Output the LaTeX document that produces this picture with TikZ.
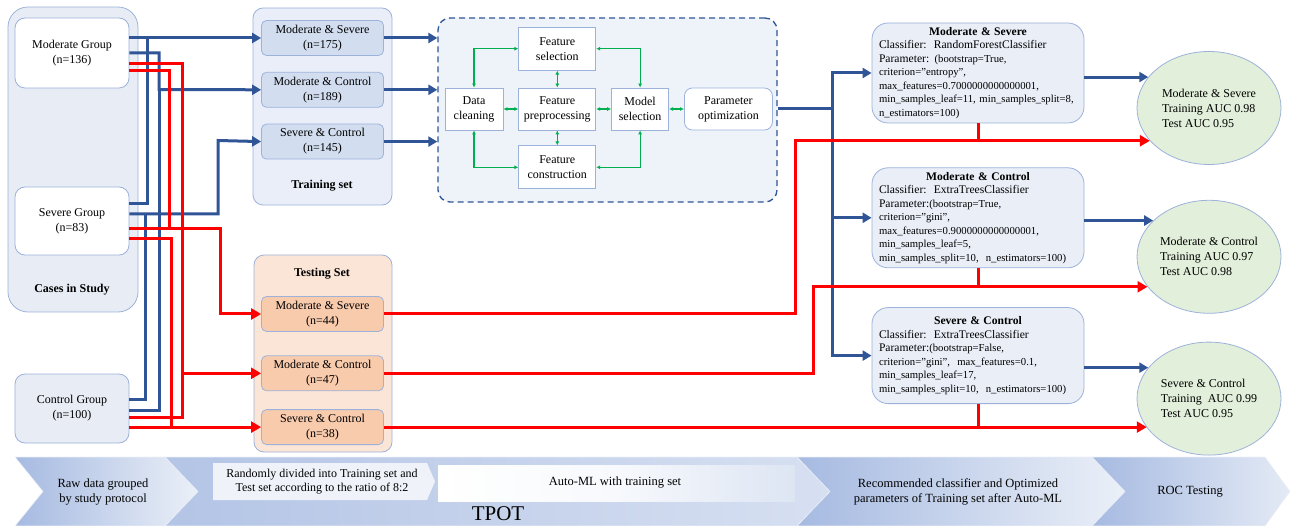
\documentclass[tikz,border=0pt]{standalone}
\usepackage{fontspec}
\setmainfont{Liberation Serif}
\usepackage{tikz}
\usetikzlibrary{positioning}
\usetikzlibrary{arrows.meta}
\usetikzlibrary{shapes.geometric}
\definecolor{darkblue}{HTML}{2F5597}
\definecolor{edgeblue}{HTML}{9DB2DB}
\definecolor{casefill}{HTML}{E8ECF4}
\definecolor{trainfill}{HTML}{E9EEF8}
\definecolor{trainbox}{HTML}{D2DEF0}
\definecolor{testfill}{HTML}{FBE5D6}
\definecolor{testbox}{HTML}{F8CBAD}
\definecolor{amlfill}{HTML}{EEF3FA}
\definecolor{clsfill}{HTML}{E9EEF7}
\definecolor{rocfill}{HTML}{E2EFDA}
\definecolor{linkgreen}{HTML}{00B050}
\definecolor{bandblue}{HTML}{A6BAE1}
\definecolor{bandlight}{HTML}{EBF0F8}
\newcommand{\boxfont}{\fontsize{12}{15}\selectfont}
\newcommand{\parfont}{\fontsize{10.7}{13.5}\selectfont}
\newcommand{\clsfont}{\fontsize{11.6}{13.5}\selectfont}
\newcommand{\bandfont}{\fontsize{12.5}{15}\selectfont}
\tikzset{
  panel/.style={draw=edgeblue,line width=0.8pt,inner sep=0},
  casebox/.style={draw=edgeblue,line width=0.8pt,fill=white,rounded corners=10pt,
    minimum width=114pt,inner sep=0,align=center,font=\boxfont},
  subbox/.style={draw=edgeblue,line width=0.8pt,rounded corners=5pt,minimum width=122pt,
    minimum height=35pt,inner sep=0,align=center,font=\boxfont},
  stepbox/.style={draw=edgeblue,line width=0.8pt,fill=white,minimum height=42pt,
    inner sep=0,align=center,font=\boxfont},
  clsbox/.style={draw=edgeblue,line width=0.8pt,fill=clsfill,rounded corners=16pt,
    text width=198pt,inner xsep=7pt,inner ysep=0,align=left,font=\parfont},
  roc/.style={ellipse,draw=edgeblue,line width=0.8pt,fill=rocfill,minimum width=144pt,
    minimum height=113pt,inner sep=0,align=left,font=\boxfont},
  blueline/.style={draw=darkblue,line width=3pt},
  bluearr/.style={blueline,-{Triangle[length=9pt,width=10pt]}},
  redline/.style={draw=red,line width=3pt},
  redarr/.style={redline,-{Triangle[length=10pt,width=11pt]}},
  greenarr/.style={draw=linkgreen,line width=1.2pt,
    {Latex[length=4pt,width=4pt]}-{Latex[length=4pt,width=4pt]}},
  chevron/.style={draw=bandlight,line width=0.6pt}
}
\begin{document}
\begin{tikzpicture}[x=1pt,y=-1pt]
\useasboundingbox (0,0) rectangle (1295,526);

% bottom band
\path[chevron,left color=bandblue,right color=bandlight]
  (15,457) -- (165,457) -- (198,491.5) -- (165,526) -- (15,526) -- (43,491.5) -- cycle;
\path[chevron,left color=bandblue!85!white,right color=bandblue!45!white]
  (165,457) -- (797,457) -- (830,491.5) -- (797,526) -- (165,526) -- (198,491.5) -- cycle;
\path[chevron,left color=bandblue,right color=bandlight]
  (797,457) -- (1092,457) -- (1125,491.5) -- (1092,526) -- (797,526) -- (830,491.5) -- cycle;
\path[chevron,left color=bandblue,right color=bandlight!90!bandblue]
  (1092,457) -- (1265,457) -- (1290,491.5) -- (1265,526) -- (1092,526) -- (1125,491.5) -- cycle;
\path[fill=bandlight!80!white] (213,463) -- (427,463) -- (435,481.5) -- (427,500) -- (213,500) -- cycle;
\path[left color=white,right color=bandlight!80!bandblue,middle color=white!60!bandlight]
  (438,465) rectangle (795,501);
\node[font=\bandfont,align=center] (rawtxt) at (103,492) {Raw data grouped\\by study protocol};
\node[font=\fontsize{12}{14.3}\selectfont,align=center] (splittxt) at (322,481.5)
  {Randomly divided into Training set and\\Test set according to the ratio of 8:2};
\node[font=\bandfont] (autotxt) at (615,483) {Auto-ML with training set};
\node[font=\fontsize{21}{24}\selectfont] (tpot) at (498,514) {TPOT};
\node[font=\bandfont,align=center] (rectxt) at (958,492)
  {Recommended classifier and Optimized\\parameters of Training set after Auto-ML};
\node[font=\bandfont] (roctxt) at (1190,492) {ROC Testing};

% cases
\node[panel,fill=casefill,rounded corners=20pt,minimum width=130pt,minimum height=305pt]
  (cases) at (73,159.5) {};
\node[font=\boxfont\bfseries] (caselbl) at (72,290) {Cases in Study};
\node[casebox,minimum height=70pt] (mg) at (72,53) {Moderate Group\\(n=136)};
\node[casebox,minimum height=68pt] (sg) at (72,221) {Severe Group\\(n=83)};
\node[casebox,fill=casefill,minimum height=69pt] (cg) at (72,408.5) {Control Group\\(n=100)};

% training set
\node[panel,fill=trainfill,rounded corners=10pt,minimum width=139pt,minimum height=197pt]
  (train) at (322.5,106.5) {};
\node[font=\boxfont\bfseries] (trainlbl) at (322,186) {Training set};
\node[subbox,fill=trainbox] (tr1) at (322.5,38) {Moderate \& Severe\\(n=175)};
\node[subbox,fill=trainbox,below=16pt of tr1] (tr2) {Moderate \& Control\\(n=189)};
\node[subbox,fill=trainbox,below=16pt of tr2] (tr3) {Severe \& Control\\(n=145)};

% testing set
\node[panel,fill=testfill,rounded corners=10pt,minimum width=138pt,minimum height=197pt]
  (test) at (323,353.5) {};
\node[font=\boxfont\bfseries] (testlbl) at (322,274) {Testing Set};
\node[subbox,fill=testbox] (te1) at (322.5,314) {Moderate \& Severe\\(n=44)};
\node[subbox,fill=testbox,below=23.5pt of te1] (te2) {Moderate \& Control\\(n=47)};
\node[subbox,fill=testbox,below=18pt of te2] (te3) {Severe \& Control\\(n=38)};

% auto-ml
\node[draw=darkblue,line width=1.3pt,dash pattern=on 6pt off 4pt,fill=amlfill,
  rounded corners=12pt,minimum width=339pt,minimum height=184pt,inner sep=0]
  (aml) at (607.5,110) {};
\node[stepbox,minimum width=58pt] (dc) at (474,109) {Data\\cleaning};
\node[stepbox,minimum width=77pt,right=15pt of dc] (fp) {Feature\\preprocessing};
\node[stepbox,minimum width=57pt,right=15pt of fp] (ms) {Model\\selection};
\node[stepbox,minimum width=88pt,rounded corners=8pt,right=15pt of ms] (po) {Parameter\\optimization};
\node[stepbox,minimum width=77pt,minimum height=43pt,above=17pt of fp] (fs) {Feature\\selection};
\node[stepbox,minimum width=77pt,minimum height=43pt,below=15pt of fp] (fc) {Feature\\construction};
\draw[greenarr] (dc.north) |- (fs.west);
\draw[greenarr] (fs.east) -| (ms.north);
\draw[greenarr] (dc.south) |- (fc.west);
\draw[greenarr] (fc.east) -| (ms.south);
\draw[greenarr] (dc.east) -- (fp.west);
\draw[greenarr] (fp.east) -- (ms.west);
\draw[greenarr] (ms.east) -- (po.west);
\draw[greenarr] (fs.south) -- (fp.north);
\draw[greenarr] (fp.south) -- (fc.north);

% classifiers
\node[clsbox,minimum height=100pt] (cls1) at (978,73) {%
  \makebox[\linewidth]{\clsfont\bfseries Moderate \& Severe}\\
  {\clsfont Classifier:\ \ RandomForestClassifier}\\
  {\clsfont Parameter:} (bootstrap=True,\\
  criterion="entropy",\\
  max\_features=0.7000000000000001,\\
  min\_samples\_leaf=11, min\_samples\_split=8,\\
  n\_estimators=100)};
\node[clsbox,minimum height=100pt,below=44pt of cls1] (cls2) {%
  \makebox[\linewidth]{\clsfont\bfseries Moderate \& Control}\\
  {\clsfont Classifier:\ \ ExtraTreesClassifier}\\
  {\clsfont Parameter:}(bootstrap=True,\\
  criterion="gini",\\
  max\_features=0.9000000000000001,\\
  min\_samples\_leaf=5,\\
  min\_samples\_split=10,\ \ n\_estimators=100)};
\node[clsbox,minimum height=96pt,below=39pt of cls2] (cls3) {%
  \makebox[\linewidth]{\clsfont\bfseries Severe \& Control}\\
  {\clsfont Classifier:\ \ ExtraTreesClassifier}\\
  {\clsfont Parameter:}(bootstrap=False,\\
  criterion="gini",\ \ max\_features=0.1,\\
  min\_samples\_leaf=17,\\
  min\_samples\_split=10,\ \ n\_estimators=100)};

% roc results
\node[roc] (roc1) at (1209,108) {Moderate \& Severe\\Training AUC 0.98\\Test AUC 0.95};
\node[roc,below=35pt of roc1] (roc2) {Moderate \& Control\\Training AUC 0.97\\Test AUC 0.98};
\node[roc,below=28pt of roc2] (roc3) {Severe \& Control\\Training\ \ AUC 0.99\\Test AUC 0.95};

% training flows
\draw[bluearr] (mg.east |- tr1.west) -- (tr1.west);
\draw[blueline] (sg.east |- 0,204) -| (147,38);
\draw[bluearr] (mg.east) -| (159,89.5) -- (tr2.west);
\draw[blueline] (cg.east |- 0,410) -| (159,89.5);
\draw[bluearr] (sg.east |- 0,214) -| (218,140.5) -- (tr3.west);
\draw[blueline] (cg.east |- 0,399) -| (145,214);

% testing flows
\draw[redline] (mg.east |- 0,64) -| (182,417) -- (cg.east |- 0,417);
\draw[redarr] (te2.west -| 182,0) -- (te2.west);
\draw[redline] (mg.east |- 0,71) -| (169,229);
\draw[redarr] (sg.east |- 0,229) -| (220,314) -- (te1.west);
\draw[redline] (sg.east |- 0,239) -| (171,425.5);
\draw[redarr] (cg.east |- te3.west) -- (te3.west);

% auto-ml
\draw[bluearr] (tr1.east) -- (tr1.east -| aml.west);
\draw[bluearr] (tr2.east) -- (tr2.east -| aml.west);
\draw[bluearr] (tr3.east) -- (tr3.east -| aml.west);
\coordinate (fork) at (832,109);
\draw[blueline] (aml.east |- fork) -- (fork);
\draw[blueline,{Triangle[length=9pt,width=10pt]}-{Triangle[length=9pt,width=10pt]}]
  (cls1.west) -- (fork |- cls1.west) -- (fork |- cls3.west) -- (cls3.west);
\draw[bluearr] (fork |- cls2.west) -- (cls2.west);

% results
\draw[bluearr] (cls1.east |- roc1.153) -- (roc1.153);
\draw[bluearr] (cls2.east |- roc2.147) -- (roc2.147);
\draw[bluearr] (cls3.east |- roc3.153) -- (roc3.153);
\draw[redarr] (te1.east) -| (roc1.209 -| 795,0) -- (roc1.209);
\draw[redarr] (te2.east) -| (roc2.206 -| 813,0) -- (roc2.206);
\draw[redarr] (te3.east) -- (te3.east -| roc3.205);
\draw[redline] (cls1.south) -- (cls1.south |- roc1.209);
\draw[redline] (cls2.south) -- (cls2.south |- roc2.206);
\draw[redline] (cls3.south) -- (cls3.south |- te3.east);
\end{tikzpicture}
\end{document}
